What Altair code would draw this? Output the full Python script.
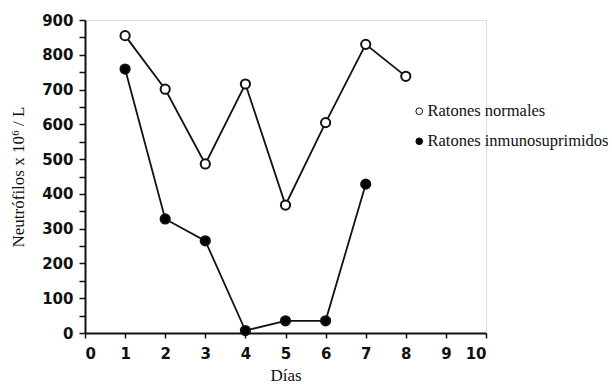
import altair as alt
import pandas as pd

# Neutrophil counts per day for each group of mice
dias_normales = [1, 2, 3, 4, 5, 6, 7, 8]
normales = [855, 701, 486, 716, 368, 605, 830, 738]
dias_inmuno = [1, 2, 3, 4, 5, 6, 7]
inmuno = [759, 328, 265, 7, 35, 35, 428]

grupos = ["Ratones normales", "Ratones inmunosuprimidos"]
x_ticks = list(range(0, 11))
y_ticks = list(range(0, 901, 50))

df = pd.concat([
    pd.DataFrame({"dia": dias_normales, "valor": normales, "grupo": grupos[0]}),
    pd.DataFrame({"dia": dias_inmuno, "valor": inmuno, "grupo": grupos[1]}),
])

x = alt.X(
    "dia:Q",
    scale=alt.Scale(domain=[0, 10], nice=False, zero=False),
    axis=alt.Axis(
        values=x_ticks, title="Días", grid=False,
        labelFont="DejaVu Sans", labelFontWeight="bold", labelFontSize=15,
        labelColor="#111", labelPadding=8, tickSize=5, tickWidth=1.5,
        domainWidth=2, domainColor="#111", tickColor="#111",
        titleFont="Liberation Serif", titleFontWeight="normal",
        titleFontSize=17, titleColor="#111", titlePadding=6,
    ),
)
y = alt.Y(
    "valor:Q",
    scale=alt.Scale(domain=[0, 900], nice=False),
    axis=alt.Axis(
        values=y_ticks, title="Neutrófilos x 10⁶ / L", grid=False,
        labelExpr="datum.value % 100 == 0 ? datum.label : ''",
        labelFont="DejaVu Sans", labelFontWeight="bold", labelFontSize=15,
        labelColor="#111", labelPadding=6, tickSize=6, tickWidth=1.5,
        domainWidth=2, domainColor="#111", tickColor="#111",
        titleFont="Liberation Serif", titleFontWeight="normal",
        titleFontSize=17, titleColor="#111", titlePadding=14,
    ),
)

lineas = alt.Chart(df).mark_line(color="#111", strokeWidth=1.8).encode(
    x=x, y=y, detail="grupo:N"
)

puntos = alt.Chart(df).mark_point(
    filled=True, shape="circle", size=85, stroke="#111", strokeWidth=2, opacity=1
).encode(
    x=x,
    y=y,
    fill=alt.Fill(
        "grupo:N",
        scale=alt.Scale(domain=grupos, range=["white", "black"]),
        legend=alt.Legend(
            title=None, orient="none", legendX=326, legendY=83,
            symbolType="circle", symbolSize=45, symbolStrokeWidth=1,
            symbolStrokeColor="#111", symbolOpacity=1,
            labelFont="Liberation Serif", labelFontSize=16.5,
            labelColor="#111", labelOffset=0, labelLimit=0, rowPadding=13,
        ),
    ),
)

chart = (
    alt.layer(lineas, puntos)
    .properties(
        width=401, height=313,
        padding={"left": 85, "top": 20, "right": 126, "bottom": 51},
        autosize=alt.AutoSizeParams(type="none"),
    )
    .configure_view(stroke=None)
    .configure(background="white")
)

chart.save("out.html", embed_options={"renderer": "svg", "actions": False})
